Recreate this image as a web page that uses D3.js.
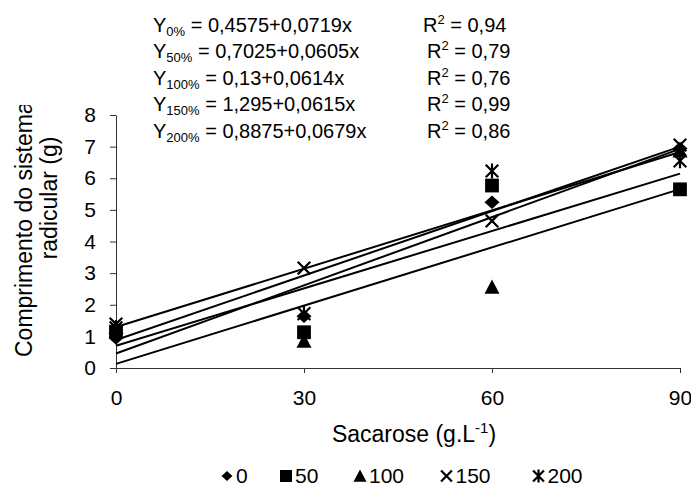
<!DOCTYPE html>
<html><head><meta charset="utf-8">
<script src="https://cdn.jsdelivr.net/npm/d3@7"></script>
<style>
body{margin:0;background:#fff}
svg{display:block}
text{font-family:"Liberation Sans",Arial,Helvetica,sans-serif;fill:#000}
</style>
</head><body>
<svg id="chart" width="691" height="494"></svg>
<script>
// Sucrose concentration (g/L) on the x axis
const sucrose = [0, 30, 60, 90];
// Legend names of the five treatments
const seriesNames = ["0", "50", "100", "150", "200"];
const eqSubscripts = ["0%", "50%", "100%", "150%", "200%"];
// Root system length (g) per treatment, one value per sucrose level
const root0 = [0.95, 1.64, 5.24, 6.94];
const root50 = [1.15, 1.13, 5.77, 5.65];
const root100 = [1.30, 0.85, 2.56, 6.87];
const root150 = [1.39, 3.16, 4.65, 7.05];
const root200 = [1.27, 1.72, 6.23, 6.55];
// Linear fits y = a + b x and their R²
const intercepts = [0.4575, 0.7025, 0.13, 1.295, 0.8875];
const slopes = [0.0719, 0.0605, 0.0614, 0.0615, 0.0679];
const r2 = [0.94, 0.79, 0.76, 0.99, 0.86];
// Axis ticks
const xTicks = [0, 30, 60, 90];
const yTicks = [0, 1, 2, 3, 4, 5, 6, 7, 8];

const seriesValues = [root0, root50, root100, root150, root200];
const markerKinds = ["diamond", "square", "triangle", "cross", "star"];

const svg = d3.select("#chart");
const FS_EQ = 20, FS_TICK = 21, FS_TITLE = 23, FS_LEG = 21;

const x = d3.scaleLinear().domain([0, 90]).range([116, 680]);
const y = d3.scaleLinear().domain([0, 8]).range([368, 115]);

const comma = v => String(v).replace(".", ",");

// marker shapes centred on the origin
function markerPath(kind, s) {
  const p = d3.path();
  if (kind === "diamond") {
    p.moveTo(0, -s * 0.45); p.lineTo(s * 0.5, 0); p.lineTo(0, s * 0.45); p.lineTo(-s * 0.5, 0); p.closePath();
  } else if (kind === "square") {
    const h = s * 0.46; p.rect(-h, -h, 2 * h, 2 * h);
  } else if (kind === "triangle") {
    const h = s * 0.5; p.moveTo(0, -h); p.lineTo(h, h * 0.9); p.lineTo(-h, h * 0.9); p.closePath();
  } else if (kind === "cross") {
    const h = s * 0.42; p.moveTo(-h, -h); p.lineTo(h, h); p.moveTo(h, -h); p.lineTo(-h, h);
  } else {
    const h = s * 0.42; p.moveTo(-h, -h); p.lineTo(h, h); p.moveTo(h, -h); p.lineTo(-h, h);
    p.moveTo(0, -s * 0.5); p.lineTo(0, s * 0.5);
  }
  return p.toString();
}
function drawMarker(g, kind, cx, cy, s) {
  const filled = kind === "diamond" || kind === "square" || kind === "triangle";
  g.append("path")
    .attr("transform", `translate(${cx},${cy})`)
    .attr("d", markerPath(kind, s))
    .attr("fill", filled ? "#000" : "none")
    .attr("stroke", "#000")
    .attr("stroke-width", filled ? 0 : 2.2);
}

// axes
const xAxis = svg.append("g").attr("transform", "translate(0,368)")
  .call(d3.axisBottom(x).tickValues(xTicks).tickSize(5).tickSizeOuter(0).tickPadding(17));
const yAxis = svg.append("g").attr("transform", "translate(116,0)")
  .call(d3.axisLeft(y).tickValues(yTicks).tickSize(6).tickSizeOuter(0).tickPadding(14));
[xAxis, yAxis].forEach(a => {
  a.selectAll("path.domain").attr("stroke", "#333").attr("stroke-width", 1);
  a.selectAll(".tick line").attr("stroke", "#333");
  a.selectAll(".tick text").attr("font-size", FS_TICK)
    .attr("font-family", "Liberation Sans, Arial, sans-serif").attr("fill", "#000");
});

// trend lines
const plot = svg.append("g");
intercepts.forEach((a, i) => {
  plot.append("line")
    .attr("x1", x(0)).attr("y1", y(a))
    .attr("x2", x(90)).attr("y2", y(a + slopes[i] * 90))
    .attr("stroke", "#000").attr("stroke-width", 2);
});

// data markers
seriesValues.forEach((vals, i) => {
  vals.forEach((v, j) => drawMarker(plot, markerKinds[i], x(sucrose[j]), y(v), 15));
});

// regression equations
const eqG = svg.append("g");
intercepts.forEach((a, i) => {
  const by = 31.5 + i * 26.5;
  const t = eqG.append("text").attr("x", 153).attr("y", by).attr("font-size", FS_EQ);
  t.append("tspan").text("Y");
  t.append("tspan").attr("font-size", FS_EQ * 0.65).attr("dy", 4).text(eqSubscripts[i]);
  t.append("tspan").attr("dy", -4).text(" = " + comma(a) + "+" + comma(slopes[i]) + "x");
  const r = eqG.append("text").attr("x", i === 0 ? 423 : 427).attr("y", by).attr("font-size", FS_EQ);
  r.append("tspan").text("R");
  r.append("tspan").attr("font-size", FS_EQ * 0.65).attr("dy", -8).text("2");
  r.append("tspan").attr("dy", 8).text(" = " + comma(r2[i].toFixed(2)));
});

// axis titles
const xt = svg.append("text").attr("x", 414).attr("y", 442).attr("text-anchor", "middle").attr("font-size", FS_TITLE);
xt.append("tspan").text("Sacarose (g.L");
xt.append("tspan").attr("font-size", FS_TITLE * 0.65).attr("dy", -9).text("-1");
xt.append("tspan").attr("dy", 9).text(")");

// y title: its box is narrower than the text, so the first line is cut at the top
svg.append("clipPath").attr("id", "ytclip").append("rect")
  .attr("x", 0).attr("y", 105).attr("width", 108).attr("height", 389);
const yt = svg.append("g").attr("clip-path", "url(#ytclip)")
  .append("text").attr("transform", "rotate(-90)").attr("font-size", FS_TITLE);
yt.append("tspan").attr("x", -357).attr("y", 32).text("Comprimento do sistema");
yt.append("tspan").attr("x", -198).attr("y", 57).attr("text-anchor", "middle").text("radicular (g)");

// legend
const leg = svg.append("g");
const legendX = [227, 286, 360, 446.5, 538.5];
seriesNames.forEach((name, i) => {
  const s = markerKinds[i] === "diamond" ? 11 : 13;
  drawMarker(leg, markerKinds[i], legendX[i], 476, s);
  leg.append("text").attr("x", legendX[i] + 9).attr("y", 483).attr("font-size", FS_LEG).text(name);
});
</script>
</body></html>
